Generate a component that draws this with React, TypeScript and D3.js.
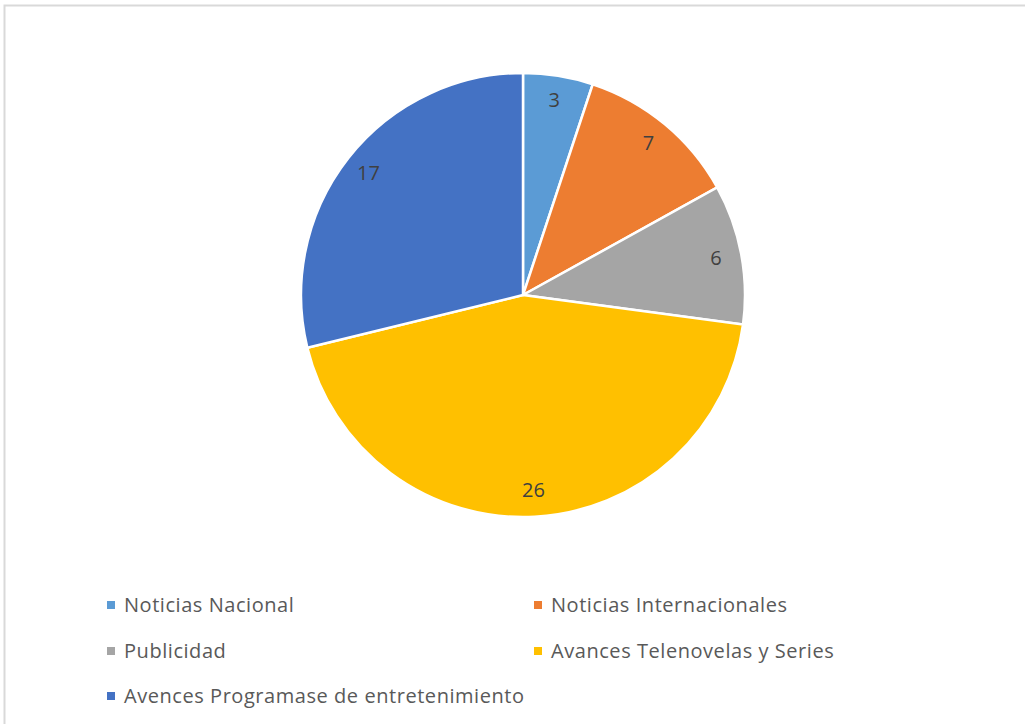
import React from "react";
import * as d3 from "d3";

const categories = [
  "Noticias Nacional",
  "Noticias Internacionales",
  "Publicidad",
  "Avances Telenovelas y Series",
  "Avences Programase de entretenimiento",
];
const values = [3, 7, 6, 26, 17];
const colors = ["#5B9BD5", "#ED7D31", "#A5A5A5", "#FFC000", "#4472C4"];

export default function App() {
  const W = 1025, H = 724;
  const cx = 523, cy = 295, R = 222;
  const pie = d3.pie<number>().sort(null).value((d) => d)(values);
  const arc = d3.arc<d3.PieArcDatum<number>>().innerRadius(0).outerRadius(R);
  const labelArc = d3.arc<d3.PieArcDatum<number>>().innerRadius(R * 0.885).outerRadius(R * 0.885);
  const legendPos = [
    [107, 605], [534, 605], [107, 651], [534, 651], [107, 696],
  ];
  const font = "'Open Sans', 'Noto Sans', sans-serif";
  return (
    <svg width={W} height={H} style={{ position: "absolute", left: 0, top: 0 }}>
      <rect x={0} y={0} width={W} height={H} fill="#fff" />
      <rect x={4.5} y={5.5} width={W + 10} height={H + 10} fill="none" stroke="#d9d9d9" strokeWidth={2} />
      <g transform={`translate(${cx},${cy})`}>
        {pie.map((p, i) => (
          <path key={i} d={arc(p) || ""} fill={colors[i]} stroke="#fff" strokeWidth={2.5} />
        ))}
        {pie.map((p, i) => {
          const [x, y] = labelArc.centroid(p);
          return (
            <text key={i} x={x} y={y} dy="0.3em" textAnchor="middle" fontFamily={font} fontSize={20} fill="#404040">
              {values[i]}
            </text>
          );
        })}
      </g>
      {categories.map((c, i) => (
        <g key={i} transform={`translate(${legendPos[i][0]},${legendPos[i][1]})`}>
          <rect x={0} y={-4} width={8} height={8} fill={colors[i]} />
          <text x={17} y={0} dy="0.36em" fontFamily={font} fontSize={20} letterSpacing={0.55} fill="#595959">
            {c}
          </text>
        </g>
      ))}
    </svg>
  );
}
